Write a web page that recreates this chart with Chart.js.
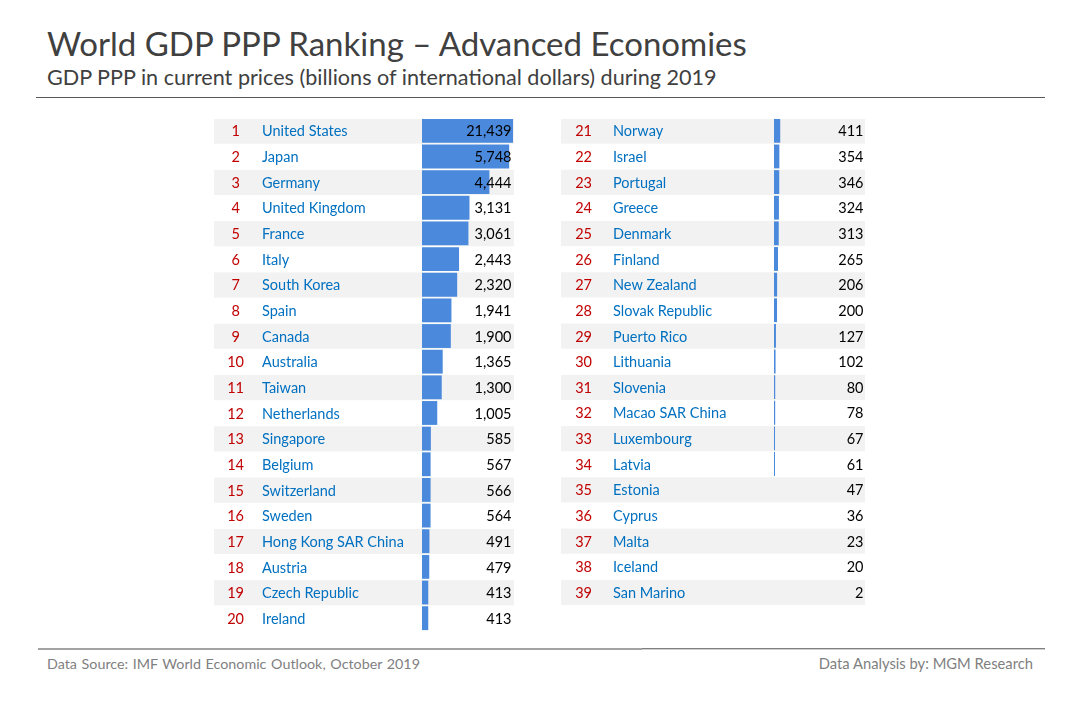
<!DOCTYPE html>
<html>
<head>
<meta charset="utf-8">
<script src="https://cdn.jsdelivr.net/npm/chart.js@4/dist/chart.umd.min.js"></script>
<style>
html,body{margin:0;padding:0;background:#fff;width:1080px;height:720px;overflow:hidden}
body{position:relative;font-family:Lato,sans-serif}
.t{position:absolute;white-space:nowrap;line-height:1}
.l{position:absolute;height:1px}
canvas{position:absolute}
</style>
</head>
<body>
<div class="t" id="title" style="left:47px;top:27px;font-size:33px;color:#404040">World GDP PPP Ranking – Advanced Economies</div>
<div class="t" id="sub" style="left:47px;top:67px;font-size:21.6px;color:#404040">GDP PPP in current prices (billions of international dollars) during 2019</div>
<div class="l" style="left:36px;top:97px;width:1009px;background:#595959"></div>
<canvas id="leftTable" style="left:214px;top:119px"></canvas>
<canvas id="rightTable" style="left:561px;top:119px"></canvas>
<div class="l" style="left:38px;top:648px;width:604px;height:2px;background:#a3a3a3"></div>
<div class="l" style="left:642px;top:648px;width:403px;background:#7f7f7f"></div>
<div class="l" style="left:642px;top:649px;width:403px;background:#d0d0d0"></div>
<div class="t" id="src" style="left:47px;top:657px;font-size:14.3px;color:#7f7f7f;word-spacing:1px">Data Source: IMF World Economic Outlook, October 2019</div>
<div class="t" id="by" style="right:47px;top:656px;font-size:14.75px;color:#7f7f7f">Data Analysis by: MGM Research</div>
<script>
const leftRanks = ["1","2","3","4","5","6","7","8","9","10","11","12","13","14","15","16","17","18","19","20"];
const leftNames = ["United States","Japan","Germany","United Kingdom","France","Italy","South Korea","Spain","Canada","Australia","Taiwan","Netherlands","Singapore","Belgium","Switzerland","Sweden","Hong Kong SAR China","Austria","Czech Republic","Ireland"];
const leftValues = [21439,5748,4444,3131,3061,2443,2320,1941,1900,1365,1300,1005,585,567,566,564,491,479,413,413];
const rightRanks = ["21","22","23","24","25","26","27","28","29","30","31","32","33","34","35","36","37","38","39"];
const rightNames = ["Norway","Israel","Portugal","Greece","Denmark","Finland","New Zealand","Slovak Republic","Puerto Rico","Lithuania","Slovenia","Macao SAR China","Luxembourg","Latvia","Estonia","Cyprus","Malta","Iceland","San Marino"];
const rightValues = [411,354,346,324,313,265,206,200,127,102,80,78,67,61,47,36,23,20,2];

const ROW = 25.63, FONT = "Lato, sans-serif", FS = 14.5;
const BAR = "#4a89dc", BAND = "#f2f2f2", RED = "#c00000", BLUE = "#0070c0";
const AXIS_MAX = 6000, HIDE_BELOW = 50, MARK_LIFT = 1;

const tablePlugin = {
  id: "table",
  beforeDraw(chart) {
    const y = chart.scales.y, c = chart.ctx;
    c.save(); c.fillStyle = BAND;
    y.getLabels().forEach((_, i) => {
      if (i % 2 === 0) {
        const m = y.getPixelForValue(i) - MARK_LIFT;
        c.fillRect(0, m - ROW / 2 + 0.5, chart.width, ROW - 0.5);
      }
    });
    c.restore();
  },
  beforeDatasetsDraw(chart) {
    chart.ctx.save(); chart.ctx.translate(0, -MARK_LIFT);
  },
  afterDatasetsDraw(chart) {
    const c = chart.ctx, meta = chart.getDatasetMeta(0), vals = chart.data.datasets[0].data;
    c.restore();
    c.save();
    c.font = FS + "px " + FONT; c.fillStyle = "#000"; c.textAlign = "right"; c.textBaseline = "middle";
    meta.data.forEach((el, i) => c.fillText(vals[i].toLocaleString("en-US"), chart.chartArea.right - 1.5, el.y));
    c.restore();
  }
};

function table(id, ranks, names, values, rankW, nameW, rankPad, padR) {
  const cv = document.getElementById(id);
  cv.width = rankW + nameW + 91 + padR; cv.height = Math.round(ranks.length * ROW);
  cv.style.width = cv.width + "px"; cv.style.height = cv.height + "px";
  const fitTo = w => s => { s.width = w; s.paddingTop = 0; s.paddingBottom = 0; };
  return new Chart(cv, {
    type: "bar",
    plugins: [tablePlugin],
    data: { labels: names, datasets: [{
      data: values, xAxisID: "x", yAxisID: "y",
      backgroundColor: ctx => ctx.raw < HIDE_BELOW ? "transparent" : BAR,
      barPercentage: 0.93, categoryPercentage: 1, minBarLength: 1
    }]},
    options: {
      indexAxis: "y", responsive: false, animation: false, devicePixelRatio: 1,
      layout: { padding: { right: padR } },
      plugins: { legend: { display: false }, tooltip: { enabled: false }, title: { display: false } },
      scales: {
        x: { display: false, min: 0, max: AXIS_MAX },
        y: { type: "category", labels: names, position: "left", weight: 1, offset: true,
          grid: { display: false, drawTicks: false }, border: { display: false },
          afterFit: fitTo(nameW),
          ticks: { crossAlign: "far", padding: 0, autoSkip: false, color: BLUE, font: { family: FONT, size: FS } } },
        rank: { axis: "y", type: "category", labels: ranks, position: "left", weight: 2, offset: true,
          grid: { display: false, drawTicks: false }, border: { display: false },
          afterFit: fitTo(rankW),
          ticks: { crossAlign: "center", padding: rankPad, autoSkip: false, color: RED, font: { family: FONT, size: FS } } }
      }
    }
  });
}
table("leftTable", leftRanks, leftNames, leftValues, 48, 160, 18, 1);
table("rightTable", rightRanks, rightNames, rightValues, 52, 161, 21, 0);
</script>
</body>
</html>
